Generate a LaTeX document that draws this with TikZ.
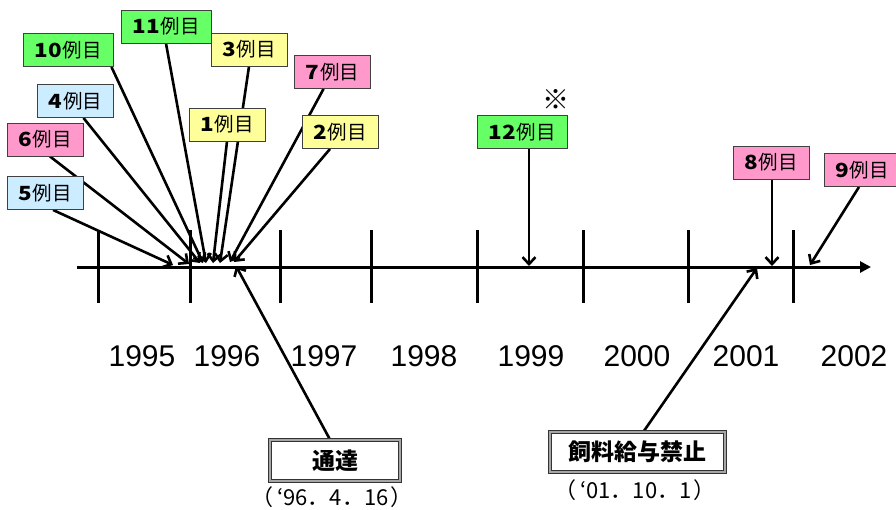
\documentclass[tikz,border=0pt]{standalone}
\usepackage{fontspec}
\setmainfont{Liberation Sans}
\newfontfamily\cjk{Noto Sans CJK JP}
\usetikzlibrary{arrows.meta,backgrounds}
\definecolor{cgreen}{HTML}{66FF66}
\definecolor{cyellow}{HTML}{FFFF99}
\definecolor{cpink}{HTML}{FF99CC}
\definecolor{cblue}{HTML}{CCECFF}
\newcommand\rei[1]{{\bfseries\scalebox{1.15}[1]{#1}}\kern1pt 例目}
\begin{document}
\begin{tikzpicture}[x=1pt,y=-1pt,
  lab/.style={draw=black!75, line width=0.9pt, minimum height=33, minimum width=76, inner sep=0pt,
    font=\cjk\fontsize{19.5}{19.5}\selectfont},
  labw/.style={lab, minimum width=90},
  dbox/.style={draw=black!80, line width=0.8pt, double=black!35, double distance=1.6pt, fill=white,
    inner sep=0pt, font=\cjk\bfseries\fontsize{23}{23}\selectfont},
  datef/.style={font=\cjk\fontsize{22}{22}\selectfont, inner sep=0pt},
  year/.style={font=\fontsize{30}{30}\selectfont, inner sep=0pt},
  ptr/.style={line width=2.6pt, -{Straight Barb[length=7pt,width=13pt]}},
  tick/.style={line width=3pt},
]
\useasboundingbox (0,0) rectangle (896,509);

% labels
\node[labw, fill=cgreen]  (b10) at (68,50)   {\rei{10}};
\node[labw, fill=cgreen]  (b11) at (166,26.5) {\rei{11}};
\node[lab,  fill=cyellow] (b3)  at (249,49.5) {\rei{3}};
\node[lab,  fill=cpink]   (b7)  at (332.5,72) {\rei{7}};
\node[lab,  fill=cblue]   (b4)  at (75.5,101) {\rei{4}};
\node[lab,  fill=cyellow] (b1)  at (227,124.5) {\rei{1}};
\node[lab,  fill=cyellow] (b2)  at (340,132) {\rei{2}};
\node[lab,  fill=cpink]   (b6)  at (45,139.5) {\rei{6}};
\node[lab,  fill=cblue]   (b5)  at (45,193) {\rei{5}};
\node[labw, fill=cgreen]  (b12) at (522,132) {\rei{12}};
\node[font=\cjk\bfseries\fontsize{27}{27}\selectfont, inner sep=0pt] (star) at (556,100) {※};
\node[lab,  fill=cpink]   (b8)  at (771,162.5) {\rei{8}};
\node[lab,  fill=cpink]   (b9)  at (862,170) {\rei{9}};

\node[dbox, minimum width=130, minimum height=41] (n1) at (335,460.5) {通達};
\node[datef] (d1) at (332,497) {（\kern4pt‘96．4．16\kern2pt）};
\node[dbox, minimum width=175, minimum height=40] (n2) at (637.5,452) {飼料給与禁止};
\node[datef] (d2) at (635,490) {（\kern4pt‘01．10．1\kern2pt）};

% years
\foreach \x/\y in {142/1995,227/1996,324/1997,424/1998,531/1999,637/2000,746/2001,854/2002}
  \node[year] (y\y) at (\x,356) {\y};

\begin{scope}[on background layer]
  % axis
  \coordinate (axL) at (77,267);
  \coordinate (axR) at (871,267);
  \draw[line width=3pt, -{Triangle[length=11pt,width=11pt]}] (axL) -- (axR);
  \foreach \x [count=\i] in {98,190,280,371,477,583,688,793} {
    \coordinate (tt\i) at (\x,230);
    \coordinate (tb\i) at (\x,303);
    \draw[tick] (tt\i) -- (tb\i);
  }
  % arrow tips
  \coordinate (t5)  at (173,265);
  \coordinate (t6)  at (189,264);
  \coordinate (t4)  at (200,263);
  \coordinate (t10) at (203,263);
  \coordinate (t11) at (206,263);
  \coordinate (t1)  at (213,263);
  \coordinate (t3)  at (220,263);
  \coordinate (t7)  at (230,262);
  \coordinate (t2)  at (234,262);
  \coordinate (t12) at (529,266);
  \coordinate (t8)  at (772,266);
  \coordinate (t9)  at (810,265);
  \coordinate (tA)  at (236,266);
  \coordinate (tB)  at (757,268);
  \draw[ptr] ([xshift=8]b5.south) -- (t5);
  \draw[ptr] ([xshift=5]b6.south) -- (t6);
  \draw[ptr] ([xshift=8]b4.south) -- (t4);
  \draw[ptr] ([xshift=-2]b10.south east) -- (t10);
  \draw[ptr] (b11.south) -- (t11);
  \draw[ptr] (b3.south) -- (t3);
  \draw[ptr] (b1.south) -- (t1);
  \draw[ptr] ([xshift=-9]b7.south) -- (t7);
  \draw[ptr] ([xshift=-10]b2.south) -- (t2);
  \draw[ptr] ([xshift=7]b12.south) -- (t12);
  \draw[ptr] ([xshift=1]b8.south) -- (t8);
  \draw[ptr] ([xshift=-3]b9.south) -- (t9);
  \draw[ptr] ([xshift=-5]n1.north) -- (tA);
  \draw[ptr] ([xshift=6]n2.north) -- (tB);
\end{scope}
\end{tikzpicture}
\end{document}
